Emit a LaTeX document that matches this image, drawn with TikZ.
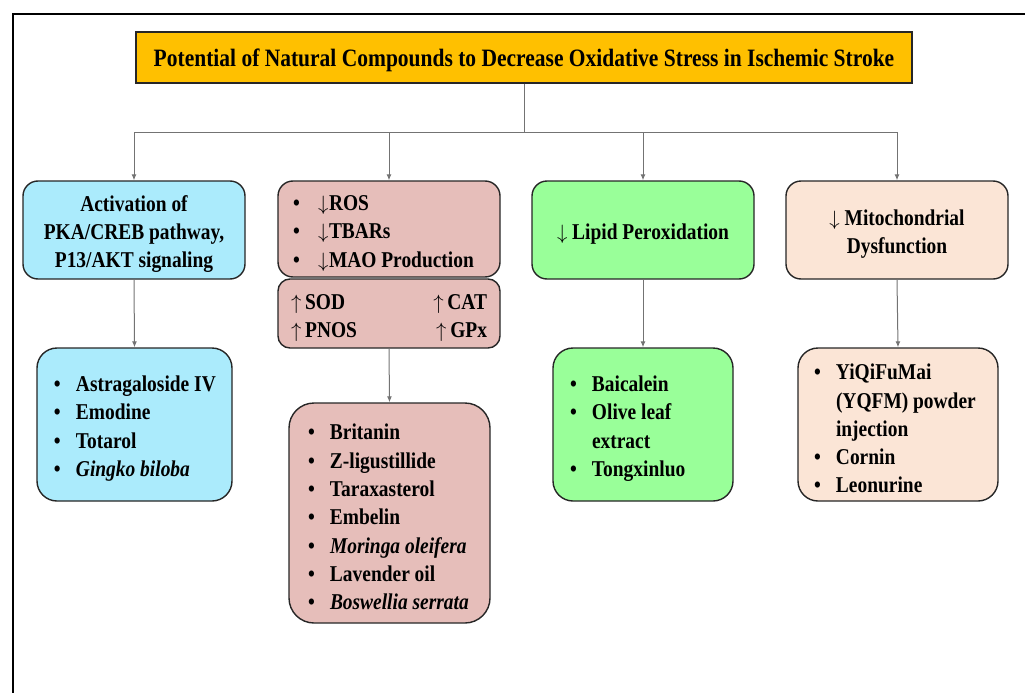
\documentclass[tikz,border=0pt]{standalone}
\usepackage{fontspec}
\setmainfont{Liberation Serif}[FakeStretch=0.86]
\usetikzlibrary{arrows.meta}

\definecolor{titlegold}{HTML}{FFC000}
\definecolor{actblue}{HTML}{ABEBFC}
\definecolor{rosrose}{HTML}{E6BEBA}
\definecolor{lipgreen}{HTML}{99FF99}
\definecolor{mitopeach}{HTML}{FBE5D6}

\newlength{\itmlead}
\newcommand{\itm}[1]{\hspace*{\itmlead}\makebox[22pt][l]{\textbullet}#1}
\newcommand{\rositm}[1]{\hspace*{\itmlead}\makebox[25pt][l]{\textbullet}\makebox[11pt][l]{$\downarrow$}#1}
\newcommand{\cont}{\hspace*{\itmlead}\hspace*{22pt}}
\newcommand{\lowtop}{\rule{0pt}{24pt}}

\begin{document}
\begin{tikzpicture}[x=1pt, y=-1pt,
  box/.style={draw=black!85, line width=1.4pt, rounded corners=15pt, inner sep=0pt,
    align=center, font=\bfseries\fontsize{22.6}{28.3}\selectfont},
  listbox/.style={box, align=flush left, rounded corners=20pt, inner xsep=0pt},
  listindent/.code={\setlength{\itmlead}{#1}},
  link/.style={draw=black!55, line width=1pt},
  arr/.style={link, -{Latex[length=6pt,width=5pt]}}]
\useasboundingbox (0,0) rectangle (1025,693);
\draw [line width=2.5pt] (13,693) -- (13,14) -- (1025,14);

\node [draw=black!85, line width=1.2pt, fill=titlegold, minimum width=776pt, minimum height=51pt,
  inner sep=0pt, font=\bfseries\fontsize{25}{30}\selectfont] (title) at (524,57.5)
  {\lowtop Potential of Natural Compounds to Decrease Oxidative Stress in Ischemic Stroke};

\node [box, fill=actblue, minimum width=222pt, minimum height=98pt] (act) at (134,230)
  {\lowtop Activation of\\PKA/CREB pathway,\\P13/AKT signaling};
\node [listbox, fill=rosrose, rounded corners=15pt, minimum width=222pt, minimum height=96pt,
  text width=222pt, listindent=15pt] (ros) at (389,229)
  {\lowtop\rositm{ROS}\\\rositm{TBARs}\\\rositm{MAO Production}};
\node [box, fill=rosrose, align=flush left, rounded corners=12pt, minimum width=222pt, minimum height=69pt,
  inner xsep=13pt, text width=196pt] (enz) at (389,313.5)
  {\lowtop$\uparrow$\,SOD\hfill$\uparrow$\,CAT\\$\uparrow$\,PNOS\hfill$\uparrow$\,GPx};
\node [box, fill=lipgreen, minimum width=222pt, minimum height=98pt] (lip) at (643,230)
  {\lowtop$\downarrow$ Lipid Peroxidation};
\node [box, fill=mitopeach, minimum width=222pt, minimum height=98pt] (mito) at (897,230)
  {\lowtop$\downarrow$ Mitochondrial\\Dysfunction};

\node [listbox, fill=actblue, minimum width=195pt, minimum height=153pt,
  text width=195pt, listindent=17pt] (actlist) at (134.5,424.5)
  {\lowtop\itm{Astragaloside IV}\\\itm{Emodine}\\\itm{Totarol}\\\itm{\textit{Gingko biloba}}};
\node [listbox, fill=rosrose, rounded corners=25pt, minimum width=201pt, minimum height=220pt,
  text width=201pt, listindent=19pt] (roslist) at (389.5,513)
  {\lowtop\itm{Britanin}\\\itm{Z-ligustillide}\\\itm{Taraxasterol}\\\itm{Embelin}\\
   \itm{\textit{Moringa oleifera}}\\\itm{Lavender oil}\\\itm{\textit{Boswellia serrata}}};
\node [listbox, fill=lipgreen, minimum width=180pt, minimum height=153pt,
  text width=180pt, listindent=17pt] (liplist) at (643,424.5)
  {\lowtop\itm{Baicalein}\\\itm{Olive leaf}\\\cont extract\\\itm{Tongxinluo}};
\node [listbox, fill=mitopeach, minimum width=200pt, minimum height=153pt,
  text width=200pt, listindent=16pt] (mitolist) at (898,424.5)
  {\lowtop\itm{YiQiFuMai}\\\cont(YQFM) powder\\\cont injection\\\itm{Cornin}\\\itm{Leonurine}};

\coordinate (hub) at (524,132);
\draw [link] (title.south) -- (hub);
\draw [arr] (hub) -| (act.north);
\draw [arr] (hub) -| (ros.north);
\draw [arr] (hub) -| (lip.north);
\draw [arr] (hub) -| (mito.north);
\draw [arr] (act.south) -- (actlist.north);
\draw [arr] (enz.south) -- (roslist.north);
\draw [arr] (lip.south) -- (liplist.north);
\draw [arr] (mito.south) -- (mitolist.north);
\end{tikzpicture}
\end{document}
